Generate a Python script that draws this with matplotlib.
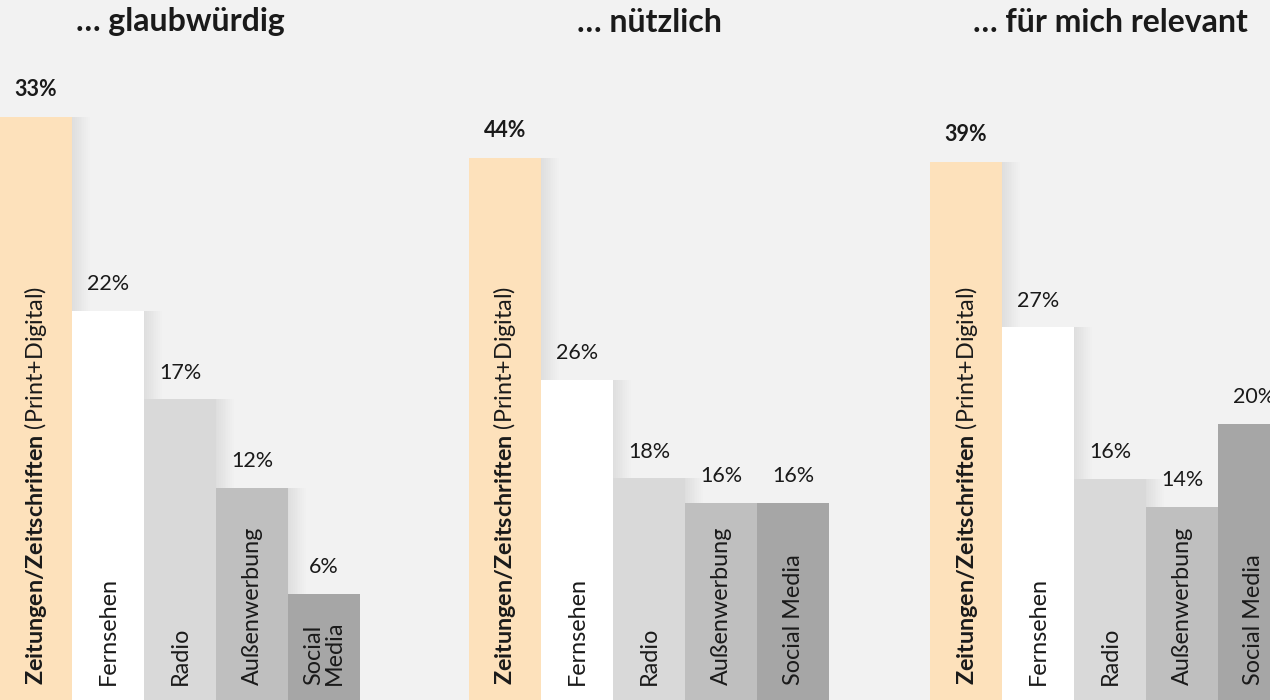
import matplotlib.pyplot as plt

plt.rcParams['font.family'] = ['Lato', 'DejaVu Sans']
plt.rcParams['mathtext.fontset'] = 'custom'
plt.rcParams['mathtext.rm'] = 'Lato'
plt.rcParams['mathtext.bf'] = 'Lato:bold'

titles = ["… glaubwürdig", "… nützlich", "… für mich relevant"]
media = ["Zeitungen/Zeitschriften", "Fernsehen", "Radio", "Außenwerbung", "Social Media"]
glaubwuerdig = [33, 22, 17, 12, 6]
nuetzlich = [44, 26, 18, 16, 16]
relevant = [39, 27, 16, 14, 20]
groups = [glaubwuerdig, nuetzlich, relevant]

colors = ["#fde1bb", "#ffffff", "#d9d9d9", "#bfbfbf", "#a6a6a6"]
bg = "#f2f2f2"
txt = "#1a1a1a"

# each panel has its own scale in the original
ylims = [39.6, 56.8, 50.7]
lefts = [0, 469, 930]   # px
W, H = 1270, 700

fig = plt.figure(figsize=(12.7, 7), dpi=100, facecolor=bg)

for g, vals in enumerate(groups):
    ax = fig.add_axes([lefts[g] / W, 0, 360 / W, 1])
    ax.set_facecolor('none')
    ax.set_xlim(-0.5, 4.5)
    ax.set_ylim(0, ylims[g])
    ax.axis('off')
    x = range(len(vals))
    # soft shadow
    for k in range(10):
        ax.bar([i + 0.02 + k * 0.025 for i in x], vals, width=1.0,
               color='black', alpha=0.006, zorder=1, linewidth=0)
    ax.bar(x, vals, width=1.0, color=colors, zorder=2, linewidth=0)

    for i, v in enumerate(vals):
        ax.annotate(f"{v}%", (i, v), xytext=(0, 12), textcoords='offset points',
                    ha='center', va='bottom', fontsize=15.5, color=txt,
                    fontweight='bold' if i == 0 else 'normal', zorder=3)
        if i == 0:
            lab = r"$\bf{Zeitungen/Zeitschriften}$ (Print+Digital)"
        elif i == 4 and g == 0:
            lab = "Social\nMedia"
        else:
            lab = media[i]
        ax.annotate(lab, (i, 0), xytext=(0, 11), textcoords='offset points',
                    ha='center', va='bottom', rotation=90, fontsize=16.8,
                    color=txt, multialignment='left', linespacing=0.95, zorder=3)

    fig.text((lefts[g] + 180) / W, 1 - 22 / H, titles[g], ha='center', va='center',
             fontsize=23, fontweight='bold', color=txt)

fig.savefig("out.png", dpi=100, facecolor=bg)
